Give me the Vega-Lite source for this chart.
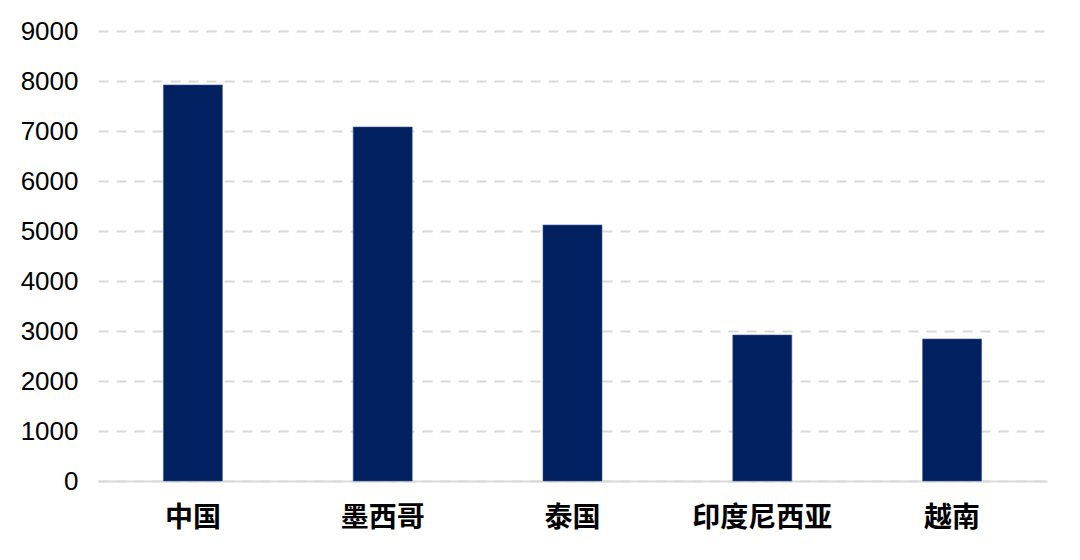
{
  "$schema": "https://vega.github.io/schema/vega-lite/v6.json",
  "autosize": {"type": "none"},
  "padding": {"left": 98, "top": 31, "right": 33, "bottom": 79},
  "width": 949,
  "height": 450,
  "background": "white",
  "data": {
    "values": [
      {"country": "中国", "value": 7920},
      {"country": "墨西哥", "value": 7080},
      {"country": "泰国", "value": 5120},
      {"country": "印度尼西亚", "value": 2920},
      {"country": "越南", "value": 2840}
    ]
  },
  "mark": {"type": "bar", "size": 59, "color": "#002060", "stroke": "#3a5a92", "strokeWidth": 0.6},
  "encoding": {
    "x": {
      "field": "country",
      "type": "nominal",
      "sort": null,
      "title": null,
      "scale": {"paddingInner": 0, "paddingOuter": 0},
      "axis": {
        "labelAngle": 0,
        "labelFont": "Noto Sans CJK SC",
        "labelFontSize": 28,
        "labelFontWeight": "bold",
        "labelColor": "#000000",
        "labelPadding": 23,
        "ticks": false,
        "domainColor": "#d9d9d9",
        "domainWidth": 2,
        "grid": false
      }
    },
    "y": {
      "field": "value",
      "type": "quantitative",
      "title": null,
      "scale": {"domain": [0, 9000], "nice": false},
      "axis": {
        "values": [0, 1000, 2000, 3000, 4000, 5000, 6000, 7000, 8000, 9000],
        "format": "d",
        "labelFont": "Liberation Sans",
        "labelFontSize": 26,
        "labelColor": "#000000",
        "labelPadding": 20,
        "ticks": false,
        "domain": false,
        "gridColor": "#d9d9d9",
        "gridWidth": 2,
        "gridDash": [10, 8]
      }
    }
  },
  "config": {"view": {"stroke": null}}
}
